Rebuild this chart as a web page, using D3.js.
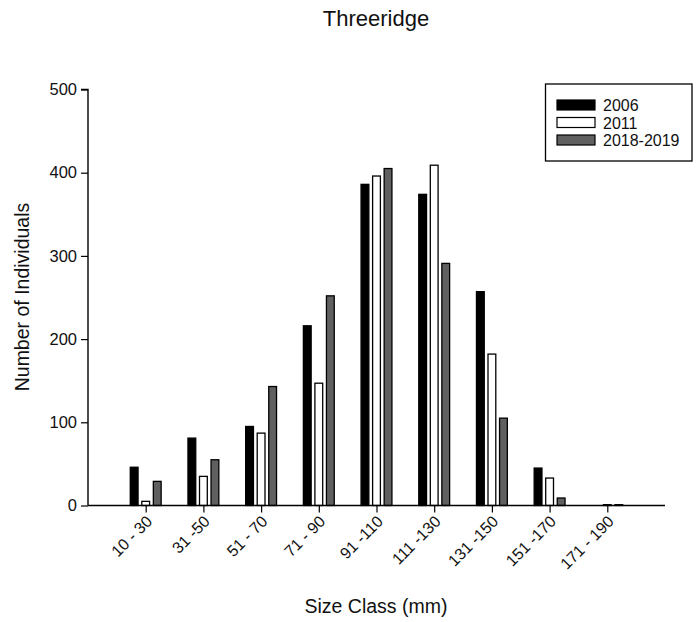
<!DOCTYPE html>
<html><head><meta charset="utf-8">
<script src="https://cdn.jsdelivr.net/npm/d3@7"></script>
<style>body{margin:0;background:#fff}svg{display:block}text{font-family:"Liberation Sans",Arial,sans-serif;fill:#111}</style>
</head><body><svg id="c" width="696" height="622"></svg>
<script>
const categories = ["10 - 30","31 -50","51 - 70","71 - 90","91 -110","111 -130","131 -150","151 -170","171 - 190"];
const seriesNames = ["2006","2011","2018-2019"];
const v2006 = [46, 81, 95, 216, 386, 374, 257, 45, 0];
const v2011 = [5, 35, 87, 147, 396, 409, 182, 33, 1];
const v2018 = [29, 55, 143, 252, 405, 291, 105, 9, 1];
const yTicks = [0, 100, 200, 300, 400, 500];
const colors = ["#000000", "#ffffff", "#606060"];
const series = [v2006, v2011, v2018];

const svg = d3.select("#c");
const x = d3.scaleLinear().domain([0, 10]).range([88, 665]);
const y = d3.scaleLinear().domain([0, 500]).range([505.5, 89.5]);
const barW = 0.135, step = 0.2;
const FF = '"Liberation Sans",Arial,sans-serif';

// bars
series.forEach((vals, s) => {
  svg.append("g").selectAll("rect").data(vals).join("rect")
    .attr("x", (d, i) => x(i + 1 + (s - 1) * step - barW / 2))
    .attr("width", x(barW) - x(0))
    .attr("y", d => y(d))
    .attr("height", d => y(0) - y(d))
    .attr("fill", colors[s])
    .attr("stroke", "#000")
    .attr("stroke-width", d => d > 0 ? 1.3 : 0)
    .attr("display", d => d > 0 ? null : "none");
});

// y axis
const ya = svg.append("g").attr("transform", "translate(88,0)")
  .call(d3.axisLeft(y).tickValues(yTicks).tickSize(7).tickPadding(4));
ya.select(".domain").attr("stroke", "#000").attr("stroke-width", 1.4).attr("d", `M-7,${y(500)}H0V${y(0)}`);
ya.selectAll(".tick line").attr("stroke-width", 1.2);
ya.selectAll("text").style("font-size", "16.5px").attr("fill", "#111").style("font-family", FF);

// x axis
const xa = svg.append("g").attr("transform", `translate(0,${y(0)})`)
  .call(d3.axisBottom(x).tickValues(d3.range(1, 10)).tickSize(7).tickFormat(d => categories[d - 1]));
xa.select(".domain").attr("stroke-width", 1.4).attr("d", `M88,0H665`);
xa.selectAll(".tick line").attr("stroke-width", 1.2);
xa.selectAll("text").style("font-size", "16px").attr("fill", "#111")
  .style("font-family", FF)
  .attr("text-anchor", "end").attr("dy", null).attr("y", 0)
  .attr("transform", "translate(7,17) rotate(-45)");

// title & labels
svg.append("text").attr("x", 376).attr("y", 26).attr("text-anchor", "middle").style("font-size", "22px").text("Threeridge");
svg.append("text").attr("x", 376).attr("y", 613).attr("text-anchor", "middle").style("font-size", "19.5px").text("Size Class (mm)");
svg.append("text").attr("transform", "translate(28.5,297) rotate(-90)").attr("text-anchor", "middle").style("font-size", "19.5px").text("Number of Individuals");

// legend
const lg = svg.append("g");
lg.append("rect").attr("x", 545.5).attr("y", 84).attr("width", 146.5).attr("height", 77).attr("fill", "#fff").attr("stroke", "#000").attr("stroke-width", 1.3);
seriesNames.forEach((n, i) => {
  const yy = 100 + i * 17.5;
  lg.append("rect").attr("x", 557).attr("y", yy).attr("width", 38).attr("height", 10).attr("fill", colors[i]).attr("stroke", "#000").attr("stroke-width", 1.2);
  lg.append("text").attr("x", 603).attr("y", yy + 11).style("font-size", "16px").text(n);
});
</script></body></html>
